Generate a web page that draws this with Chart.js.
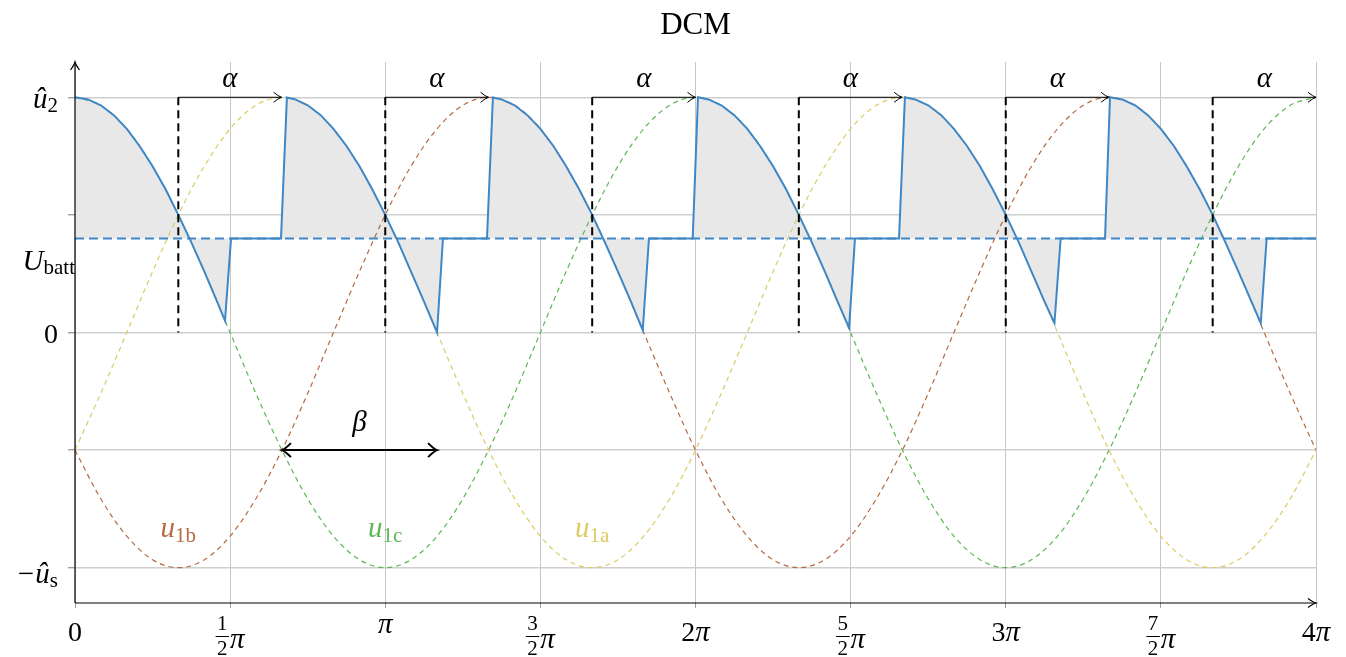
<!DOCTYPE html>
<html>
<head>
<meta charset="utf-8">
<script src="https://cdn.jsdelivr.net/npm/chart.js@4.4.1/dist/chart.umd.min.js"></script>
<style>
  html, body { margin: 0; padding: 0; background: #fff; }
</style>
</head>
<body>
<canvas id="dcmChart" width="1346" height="657"></canvas>
<script>
// all x values are in units of pi
const phaseT = [0, 0.083, 0.167, 0.25, 0.333, 0.417, 0.5, 0.583, 0.667, 0.75, 0.833, 0.917, 1, 1.083, 1.167, 1.25, 1.333, 1.417, 1.5, 1.583, 1.667, 1.75, 1.833, 1.917, 2, 2.083, 2.167, 2.25, 2.333, 2.417, 2.5, 2.583, 2.667, 2.75, 2.833, 2.917, 3, 3.083, 3.167, 3.25, 3.333, 3.417, 3.5, 3.583, 3.667, 3.75, 3.833, 3.917, 4];
const u1a = [-0.5, -0.259, 0, 0.259, 0.5, 0.707, 0.866, 0.966, 1, 0.966, 0.866, 0.707, 0.5, 0.259, 0, -0.259, -0.5, -0.707, -0.866, -0.966, -1, -0.966, -0.866, -0.707,
             -0.5, -0.259, 0, 0.259, 0.5, 0.707, 0.866, 0.966, 1, 0.966, 0.866, 0.707, 0.5, 0.259, 0, -0.259, -0.5, -0.707, -0.866, -0.966, -1, -0.966, -0.866, -0.707, -0.5];
const u1b = [-0.5, -0.707, -0.866, -0.966, -1, -0.966, -0.866, -0.707, -0.5, -0.259, 0, 0.259, 0.5, 0.707, 0.866, 0.966, 1, 0.966, 0.866, 0.707, 0.5, 0.259, 0, -0.259,
             -0.5, -0.707, -0.866, -0.966, -1, -0.966, -0.866, -0.707, -0.5, -0.259, 0, 0.259, 0.5, 0.707, 0.866, 0.966, 1, 0.966, 0.866, 0.707, 0.5, 0.259, 0, -0.259, -0.5];
const u1c = [1, 0.966, 0.866, 0.707, 0.5, 0.259, 0, -0.259, -0.5, -0.707, -0.866, -0.966, -1, -0.966, -0.866, -0.707, -0.5, -0.259, 0, 0.259, 0.5, 0.707, 0.866, 0.966,
             1, 0.966, 0.866, 0.707, 0.5, 0.259, 0, -0.259, -0.5, -0.707, -0.866, -0.966, -1, -0.966, -0.866, -0.707, -0.5, -0.259, 0, 0.259, 0.5, 0.707, 0.866, 0.966, 1];

// rectifier output (DCM)
const outT = [
  0, 0.042, 0.083, 0.125, 0.167, 0.208, 0.25, 0.292, 0.333, 0.375, 0.417, 0.458, 0.4835, 0.503, 0.664,
  0.683, 0.708, 0.75, 0.792, 0.833, 0.875, 0.917, 0.958, 1.0, 1.042, 1.083, 1.125, 1.167, 1.186, 1.328,
  1.347, 1.375, 1.417, 1.458, 1.5, 1.542, 1.583, 1.625, 1.667, 1.708, 1.75, 1.792, 1.830, 1.850, 1.991,
  2.008, 2.042, 2.083, 2.125, 2.167, 2.208, 2.25, 2.292, 2.333, 2.375, 2.417, 2.458, 2.495, 2.514, 2.656,
  2.675, 2.708, 2.75, 2.792, 2.833, 2.875, 2.917, 2.958, 3.0, 3.042, 3.083, 3.125, 3.157, 3.177, 3.320,
  3.336, 3.375, 3.417, 3.458, 3.5, 3.542, 3.583, 3.625, 3.667, 3.708, 3.75, 3.792, 3.822, 3.841, 4.0
];
const outV = [
  1, 0.991, 0.966, 0.924, 0.866, 0.793, 0.707, 0.609, 0.5, 0.383, 0.259, 0.131, 0.05, 0.4, 0.4,
  0.999, 0.992, 0.966, 0.924, 0.866, 0.793, 0.707, 0.609, 0.5, 0.383, 0.259, 0.131, 0.0, 0.4, 0.4,
  0.999, 0.991, 0.966, 0.924, 0.866, 0.793, 0.707, 0.609, 0.5, 0.383, 0.259, 0.131, 0.01, 0.4, 0.4,
  1, 0.991, 0.966, 0.924, 0.866, 0.793, 0.707, 0.609, 0.5, 0.383, 0.259, 0.131, 0.02, 0.4, 0.4,
  1, 0.991, 0.966, 0.924, 0.866, 0.793, 0.707, 0.609, 0.5, 0.383, 0.259, 0.131, 0.04, 0.4, 0.4,
  1, 0.991, 0.966, 0.924, 0.866, 0.793, 0.707, 0.609, 0.5, 0.383, 0.259, 0.131, 0.04, 0.4, 0.4
];

const uBatt = 0.4;
const alphaStart = [0.333, 1, 1.667, 2.333, 3, 3.667];
const alphaLen = 0.333;
const betaRange = [0.667, 1.167];
const betaLevel = -0.5;

const xTicks = [0, 0.5, 1, 1.5, 2, 2.5, 3, 3.5, 4];
const xTickLabels = ['0', '1/2π', 'π', '3/2π', '2π', '5/2π', '3π', '7/2π', '4π'];
const yTicks = [-1, -0.5, 0, 0.5, 1];
const yLabelValues = [1, 0.4, 0, -1];
const yLabelTexts = [['û', '2'], ['U', 'batt'], ['0', ''], ['−û', 's']];

const phaseNames = ['1a', '1b', '1c'];
const phaseColors = ['#dccb62', '#b56a42', '#5cb655'];
const phaseLabelT = [1.667, 0.333, 1];
const phaseLabelLevel = -0.87;

const SERIF = '"Liberation Serif", "DejaVu Serif", serif';
const MI = 'italic 29px ' + SERIF;
const RM = '28px ' + SERIF;
const SUB = '21px ' + SERIF;

function drawParts(ctx, parts, x, base, align) {
  let w = 0;
  parts.forEach(p => { ctx.font = p[1]; w += ctx.measureText(p[0]).width; });
  let cx = align === 'right' ? x - w : align === 'center' ? x - w / 2 : x;
  parts.forEach(p => {
    ctx.font = p[1];
    ctx.fillText(p[0], cx, base + (p[2] || 0));
    cx += ctx.measureText(p[0]).width;
  });
}

function arrowHead(ctx, x, y, angle, len, half) {
  ctx.save();
  ctx.translate(x, y);
  ctx.rotate(angle);
  ctx.beginPath();
  ctx.moveTo(-len, -half);
  ctx.quadraticCurveTo(-len * 0.35, -half * 0.15, 0, 0);
  ctx.quadraticCurveTo(-len * 0.35, half * 0.15, -len, half);
  ctx.stroke();
  ctx.restore();
}

function seg(ctx, x1, y1, x2, y2) {
  ctx.beginPath();
  ctx.moveTo(x1, y1);
  ctx.lineTo(x2, y2);
  ctx.stroke();
}

const overlay = {
  id: 'overlay',
  afterDatasetsDraw(chart) {
    const { ctx, chartArea: a, scales: { x, y } } = chart;
    ctx.save();
    ctx.textAlign = 'left';
    ctx.textBaseline = 'alphabetic';
    ctx.strokeStyle = '#000';
    ctx.fillStyle = '#000';

    // alpha markers
    const top = y.getPixelForValue(1);
    const zero = y.getPixelForValue(0);
    alphaStart.forEach(t => {
      const px = x.getPixelForValue(t);
      const ex = x.getPixelForValue(t + alphaLen);
      ctx.lineWidth = 2;
      ctx.setLineDash([8, 5]);
      seg(ctx, px, top, px, zero);
      ctx.setLineDash([]);
      ctx.lineWidth = 1;
      seg(ctx, px, top, ex, top);
      arrowHead(ctx, ex, top, 0, 8, 5);
      drawParts(ctx, [['α', MI]], (px + ex) / 2, top - 10, 'center');
    });

    // beta arrow
    const b0 = x.getPixelForValue(betaRange[0]);
    const b1 = x.getPixelForValue(betaRange[1]);
    const by = y.getPixelForValue(betaLevel);
    ctx.lineWidth = 2;
    seg(ctx, b0, by, b1, by);
    arrowHead(ctx, b1, by, 0, 9, 7);
    arrowHead(ctx, b0, by, Math.PI, 9, 7);
    drawParts(ctx, [['β', MI]], (b0 + b1) / 2, by - 19, 'center');

    // axes
    ctx.lineWidth = 1.2;
    seg(ctx, a.left, a.bottom, a.right, a.bottom);
    seg(ctx, a.left, a.bottom, a.left, a.top);
    arrowHead(ctx, a.right, a.bottom, 0, 8, 4.5);
    arrowHead(ctx, a.left, a.top, -Math.PI / 2, 8, 4.5);

    // x tick labels
    xTicks.forEach((v, i) => {
      const tx = x.getPixelForValue(v);
      const lab = xTickLabels[i];
      if (lab.indexOf('/') >= 0) {
        const num = lab.split('/')[0];
        const den = lab.split('/')[1].replace('π', '');
        ctx.font = SUB;
        const fw = Math.max(ctx.measureText(num).width, ctx.measureText(den).width) + 3;
        ctx.font = MI;
        const pw = ctx.measureText('π').width;
        const left = tx - (fw + 1 + pw) / 2;
        drawParts(ctx, [[num, SUB]], left + fw / 2, 630, 'center');
        drawParts(ctx, [[den, SUB]], left + fw / 2, 655, 'center');
        ctx.lineWidth = 1;
        seg(ctx, left, 636.5, left + fw, 636.5);
        drawParts(ctx, [['π', MI]], left + fw + 1, 648, 'left');
      } else if (lab === 'π') {
        drawParts(ctx, [['π', MI]], tx, 633, 'center');
      } else if (lab.indexOf('π') >= 0) {
        drawParts(ctx, [[lab.replace('π', ''), RM], ['π', MI]], tx, 641, 'center');
      } else {
        drawParts(ctx, [[lab, RM]], tx, 641, 'center');
      }
    });

    // y labels
    const yOff = [11, 32, 10, 15];
    const yRight = [58, 75, 58, 58];
    yLabelValues.forEach((v, i) => {
      const base = y.getPixelForValue(v) + yOff[i];
      const t = yLabelTexts[i];
      const main = t[0] === '0' ? RM : MI;
      drawParts(ctx, [[t[0], main], [t[1], SUB, 4]], yRight[i], base, 'right');
    });

    // phase labels
    phaseNames.forEach((n, i) => {
      ctx.fillStyle = phaseColors[i];
      drawParts(ctx, [['u', MI], [n, SUB, 5]], x.getPixelForValue(phaseLabelT[i]), y.getPixelForValue(phaseLabelLevel), 'center');
    });

    // title
    ctx.fillStyle = '#000';
    drawParts(ctx, [['DCM', '31px ' + SERIF]], (a.left + a.right) / 2, 34, 'center');
    ctx.restore();
  }
};

const phaseSets = [u1a, u1b, u1c].map((vals, i) => ({
  label: 'u' + phaseNames[i],
  data: phaseT.map((t, k) => ({ x: t, y: vals[k] })),
  borderColor: phaseColors[i],
  borderWidth: 1.2,
  borderDash: [5, 4],
  cubicInterpolationMode: 'monotone',
  fill: false
}));

new Chart(document.getElementById('dcmChart'), {
  type: 'line',
  data: {
    datasets: [
      {
        label: 'u_d',
        data: outT.map((t, k) => ({ x: t, y: outV[k] })),
        borderColor: '#3f87c6',
        borderWidth: 2,
        tension: 0,
        fill: { value: uBatt },
        backgroundColor: '#e8e8e8'
      },
      {
        label: 'U_batt',
        data: [{ x: 0, y: uBatt }, { x: 4, y: uBatt }],
        borderColor: '#3f87c6',
        borderWidth: 2,
        borderDash: [9, 5],
        fill: false
      },
      ...phaseSets
    ]
  },
  options: {
    responsive: false,
    animation: false,
    layout: { padding: { left: 68, right: 30, top: 62, bottom: 49 } },
    elements: { point: { radius: 0 } },
    plugins: {
      legend: { display: false },
      tooltip: { enabled: false },
      filler: { drawTime: 'beforeDatasetsDraw' }
    },
    scales: {
      x: {
        type: 'linear', min: 0, max: 4,
        afterBuildTicks: s => { s.ticks = xTicks.map(v => ({ value: v })); },
        ticks: { display: false },
        border: { display: false },
        grid: { color: '#c6c6c6', lineWidth: 1, tickLength: 5, tickColor: '#a0a0a0' }
      },
      y: {
        type: 'linear', min: -1.15, max: 1.15,
        afterBuildTicks: s => { s.ticks = yTicks.map(v => ({ value: v })); },
        ticks: { display: false },
        border: { display: false },
        grid: { color: '#cfcfcf', lineWidth: 1.4, tickLength: 7, tickColor: '#a0a0a0' }
      }
    }
  },
  plugins: [overlay]
});
</script>
</body>
</html>
